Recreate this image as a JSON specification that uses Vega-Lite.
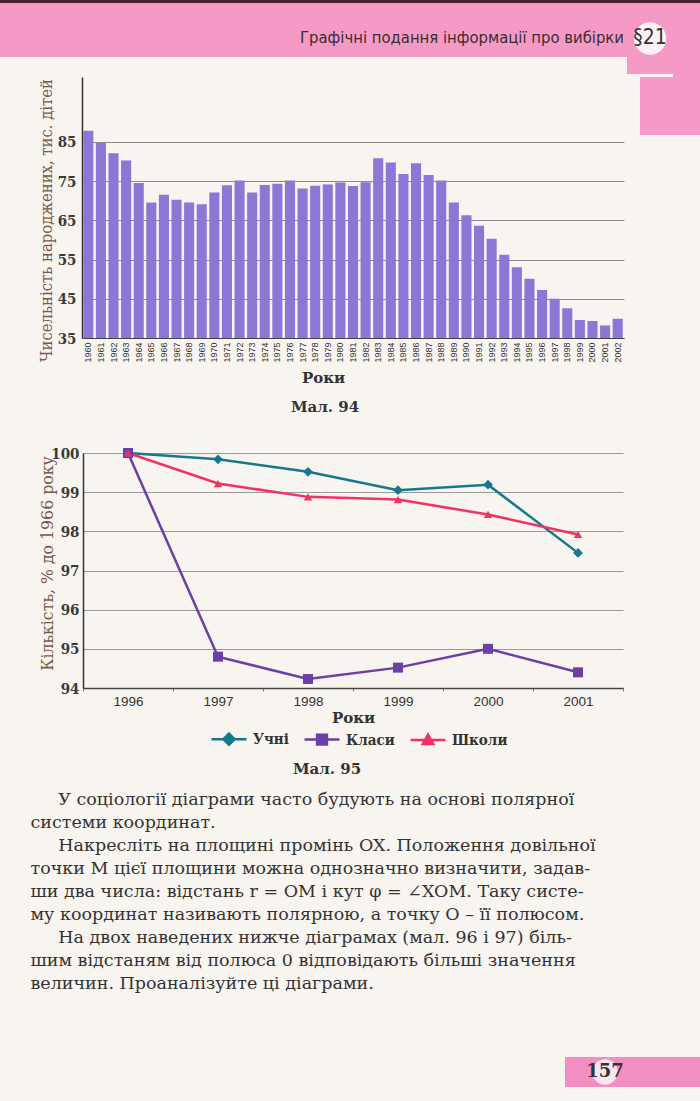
{
  "$schema": "https://vega.github.io/schema/vega-lite/v6.json",
  "background": "#f8f4f0",
  "padding": 0,
  "autosize": {"type": "pad"},
  "spacing": 0,
  "config": {"view": {"stroke": null}},
  "vconcat": [
    {"width": 700, "height": 3, "data": {"values": []}, "mark": "point", "view": {"fill": "#4a2230"}},
    {
      "hconcat": [
        {"width": 297, "height": 54, "data": {"values": []}, "mark": "point", "view": {"fill": "#f49ac5"}},
        {"width": 330, "height": 54, "view": {"fill": "#f49ac5"},
         "data": {"values": [{"t": "Графічні подання інформації про вибірки"}]},
         "mark": {"type": "text", "font": "Liberation Sans Narrow, DejaVu Sans Condensed, sans-serif", "fontSize": 16.5, "color": "#3b2d33", "dy": 8},
         "encoding": {"text": {"field": "t"}}},
        {"width": 46, "height": 71, "view": {"fill": "#f49ac5"},
         "data": {"values": [{"t": "§21"}]},
         "layer": [
           {"mark": {"type": "point", "shape": "circle", "filled": true, "color": "#fdf3f7", "size": 1050, "opacity": 1}, "encoding": {}},
           {"mark": {"type": "text", "font": "Liberation Sans Narrow, DejaVu Sans Condensed, sans-serif", "fontSize": 21, "color": "#333333", "dy": -1}, "encoding": {"text": {"field": "t"}}}
         ]},
        {"width": 27, "height": 74, "data": {"values": []}, "mark": "point", "view": {"fill": "#f49ac5"}}
      ],
      "spacing": 0,
      "bounds": "flush"
    },
    {
      "hconcat": [
        {"width": 82, "height": 368.5, "data": {"values": []}, "mark": "point"},
        {
          "width": 542,
          "height": 261,
          "data": {"values": [
            {"year": 1960, "births": 87.8}, {"year": 1961, "births": 84.7}, {"year": 1962, "births": 82.1},
            {"year": 1963, "births": 80.2}, {"year": 1964, "births": 74.5}, {"year": 1965, "births": 69.5},
            {"year": 1966, "births": 71.5}, {"year": 1967, "births": 70.2}, {"year": 1968, "births": 69.5},
            {"year": 1969, "births": 69.1}, {"year": 1970, "births": 72.1}, {"year": 1971, "births": 73.9},
            {"year": 1972, "births": 75.1}, {"year": 1973, "births": 72.1}, {"year": 1974, "births": 74.0},
            {"year": 1975, "births": 74.3}, {"year": 1976, "births": 75.1}, {"year": 1977, "births": 73.1},
            {"year": 1978, "births": 73.8}, {"year": 1979, "births": 74.1}, {"year": 1980, "births": 74.6},
            {"year": 1981, "births": 73.7}, {"year": 1982, "births": 74.7}, {"year": 1983, "births": 80.8},
            {"year": 1984, "births": 79.7}, {"year": 1985, "births": 76.8}, {"year": 1986, "births": 79.5},
            {"year": 1987, "births": 76.5}, {"year": 1988, "births": 75.1}, {"year": 1989, "births": 69.5},
            {"year": 1990, "births": 66.3}, {"year": 1991, "births": 63.6}, {"year": 1992, "births": 60.3},
            {"year": 1993, "births": 56.2}, {"year": 1994, "births": 53.0}, {"year": 1995, "births": 50.1},
            {"year": 1996, "births": 47.2}, {"year": 1997, "births": 45.0}, {"year": 1998, "births": 42.6},
            {"year": 1999, "births": 39.6}, {"year": 2000, "births": 39.3}, {"year": 2001, "births": 38.2},
            {"year": 2002, "births": 39.9}
          ]},
          "mark": {"type": "bar", "color": "#8c77d6", "clip": true},
          "encoding": {
            "x": {"field": "year", "type": "ordinal", "scale": {"paddingInner": 0.2, "paddingOuter": 0.1},
              "axis": {"title": "Роки", "titleX": 241, "titleFont": "DejaVu Serif", "titleFontSize": 15, "titleFontWeight": "bold", "titleColor": "#333333", "titlePadding": 8,
                "labelAngle": -90, "labelFont": "Liberation Sans", "labelFontSize": 9, "labelColor": "#333333", "labelPadding": 4,
                "ticks": false, "domainColor": "#444444", "domainWidth": 1}},
            "y": {"field": "births", "type": "quantitative", "scale": {"domain": [35, 101.5], "nice": false, "zero": false},
              "axis": {"title": "Чисельність народжених, тис. дітей", "titleFont": "DejaVu Serif Condensed", "titleFontSize": 16.5, "titleFontWeight": "normal", "titleColor": "#7a5848",
                "titleX": -36, "titleY": 143, "titleAngle": -90, "titleBaseline": "middle", "titleAlign": "center",
                "values": [35, 45, 55, 65, 75, 85], "labelFont": "DejaVu Serif Condensed", "labelFontSize": 15, "labelFontWeight": "bold", "labelColor": "#3a3a3a",
                "ticks": false, "labelPadding": 6, "domainColor": "#333333", "domainWidth": 1.5,
                "grid": true, "gridColor": "#8c8c8c", "gridWidth": 1}}
          },
          "title": {"text": "Мал. 94", "orient": "bottom", "anchor": "middle", "frame": "group", "offset": 15, "dx": -28, "font": "DejaVu Serif", "fontSize": 15, "fontWeight": "bold", "color": "#333333"}
        },
        {"width": 16, "height": 58, "data": {"values": []}, "mark": "point"},
        {"width": 60, "height": 58, "data": {"values": []}, "mark": "point", "view": {"fill": "#f49ac5"}}
      ],
      "spacing": 0,
      "bounds": "flush"
    },
    {
      "hconcat": [
        {"width": 83, "height": 337, "data": {"values": []}, "mark": "point"},
        {
          "width": 540,
          "height": 235,
          "data": {"values": [
            {"year": 1996, "series": "Учні", "value": 100}, {"year": 1997, "series": "Учні", "value": 99.84},
            {"year": 1998, "series": "Учні", "value": 99.52}, {"year": 1999, "series": "Учні", "value": 99.05},
            {"year": 2000, "series": "Учні", "value": 99.19}, {"year": 2001, "series": "Учні", "value": 97.45},
            {"year": 1996, "series": "Класи", "value": 100}, {"year": 1997, "series": "Класи", "value": 94.8},
            {"year": 1998, "series": "Класи", "value": 94.23}, {"year": 1999, "series": "Класи", "value": 94.52},
            {"year": 2000, "series": "Класи", "value": 95.0}, {"year": 2001, "series": "Класи", "value": 94.4},
            {"year": 1996, "series": "Школи", "value": 100}, {"year": 1997, "series": "Школи", "value": 99.22},
            {"year": 1998, "series": "Школи", "value": 98.88}, {"year": 1999, "series": "Школи", "value": 98.81},
            {"year": 2000, "series": "Школи", "value": 98.43}, {"year": 2001, "series": "Школи", "value": 97.92}
          ]},
          "encoding": {
            "x": {"field": "year", "type": "ordinal", "scale": {"paddingInner": 0, "paddingOuter": 0},
              "axis": {"title": "Роки", "titleFont": "DejaVu Serif", "titleFontSize": 15, "titleFontWeight": "bold", "titleColor": "#333333", "titlePadding": 3,
                "labelAngle": 0, "labelFont": "Liberation Sans", "labelFontSize": 13.5, "labelColor": "#333333", "labelPadding": 3,
                "ticks": true, "tickBand": "extent", "tickSize": 3, "tickColor": "#777777", "domainColor": "#444444", "domainWidth": 1.5}},
            "y": {"field": "value", "type": "quantitative", "scale": {"domain": [94, 100], "nice": false, "zero": false},
              "axis": {"title": "Кількість, % до 1966 року", "titleFont": "DejaVu Serif Condensed", "titleFontSize": 17.5, "titleFontWeight": "normal", "titleColor": "#7a5848",
                "titleX": -36, "titleY": 110, "titleAngle": -90, "titleBaseline": "middle", "titleAlign": "center",
                "values": [94, 95, 96, 97, 98, 99, 100], "labelFont": "DejaVu Serif Condensed", "labelFontSize": 15, "labelFontWeight": "bold", "labelColor": "#3a3a3a",
                "ticks": false, "labelPadding": 4, "domainColor": "#333333", "domainWidth": 1.5,
                "grid": true, "gridColor": "#9a9a9a", "gridWidth": 1}},
            "color": {"field": "series", "type": "nominal",
              "scale": {"domain": ["Учні", "Класи", "Школи"], "range": ["#16798b", "#6a3fa6", "#ef3363"]},
              "legend": {"orient": "none", "legendX": 210, "legendY": 720, "direction": "horizontal", "title": null, "padding": 0,
                "symbolSize": 1225, "labelFont": "DejaVu Serif Condensed", "labelFontSize": 15, "labelFontWeight": "bold", "labelColor": "#333333",
                "columnPadding": 10, "labelOffset": 5, "symbolStrokeWidth": 2.5, "symbolOpacity": 1,
                "encode": {"symbols": {"update": {
                  "shape": {"signal": "datum.value === 'Учні' ? 'M-1,0H1M0,-0.32L0.32,0L0,0.32L-0.32,0Z' : datum.value === 'Класи' ? 'M-1,0H1M-0.28,-0.28H0.28V0.28H-0.28Z' : 'M-1,0H1M0,-0.3L0.3,0.24H-0.3Z'"},
                  "fill": {"scale": "color", "field": "value"},
                  "stroke": {"scale": "color", "field": "value"},
                  "strokeWidth": {"value": 2.5},
                  "opacity": {"value": 1},
                  "fillOpacity": {"value": 1}
                }}}}}
          },
          "layer": [
            {"mark": {"type": "line", "strokeWidth": 2.5}},
            {"transform": [{"filter": "datum.series === 'Учні'"}],
             "mark": {"type": "point", "shape": "diamond", "filled": true, "opacity": 1, "size": 95}},
            {"transform": [{"filter": "datum.series === 'Класи'"}],
             "mark": {"type": "point", "shape": "square", "filled": true, "opacity": 1, "size": 100}},
            {"transform": [{"filter": "datum.series === 'Школи'"}],
             "mark": {"type": "point", "shape": "triangle-up", "filled": true, "opacity": 1, "size": 70}}
          ],
          "title": {"text": "Мал. 95", "orient": "bottom", "anchor": "middle", "frame": "group", "offset": 36, "dx": -26, "font": "DejaVu Serif", "fontSize": 15, "fontWeight": "bold", "color": "#333333"}
        }
      ],
      "spacing": 0,
      "bounds": "flush"
    },
    {
      "hconcat": [
        {"width": 30, "height": 267, "data": {"values": []}, "mark": "point"},
        {"width": 1, "height": 2,
         "data": {"values": [{"t": "\u200b\u00a0\u00a0\u00a0\u00a0\u00a0У соціології діаграми часто будують на основі полярної\nсистеми координат.\n\u200b\u00a0\u00a0\u00a0\u00a0\u00a0Накресліть на площині промінь OX. Положення довільної\nточки M цієї площини можна однозначно визначити, задав-\nши два числа: відстань r = OM і кут φ = ∠XOM. Таку систе-\nму координат називають полярною, а точку O – її полюсом.\n\u200b\u00a0\u00a0\u00a0\u00a0\u00a0На двох наведених нижче діаграмах (мал. 96 і 97) біль-\nшим відстаням від полюса 0 відповідають більші значення\nвеличин. Проаналізуйте ці діаграми."}]},
         "mark": {"type": "text", "align": "left", "baseline": "top", "lineBreak": "\n", "lineHeight": 23, "font": "DejaVu Serif", "fontSize": 17.5, "color": "#333333"},
         "encoding": {"text": {"field": "t"}}}
      ],
      "spacing": 0,
      "bounds": "flush"
    },
    {
      "hconcat": [
        {"width": 565, "height": 44, "data": {"values": []}, "mark": "point"},
        {"width": 80, "height": 30, "view": {"fill": "#f28fc0"},
         "data": {"values": [{"t": "157"}]},
         "layer": [
           {"mark": {"type": "point", "shape": "circle", "filled": true, "color": "#fbe6f0", "size": 650, "opacity": 1}, "encoding": {}},
           {"mark": {"type": "text", "font": "DejaVu Serif", "fontSize": 18, "fontWeight": "bold", "color": "#333333"}, "encoding": {"text": {"field": "t"}}}
         ]},
        {"width": 55, "height": 30, "data": {"values": []}, "mark": "point", "view": {"fill": "#f28fc0"}}
      ],
      "spacing": 0,
      "bounds": "flush"
    }
  ]
}
